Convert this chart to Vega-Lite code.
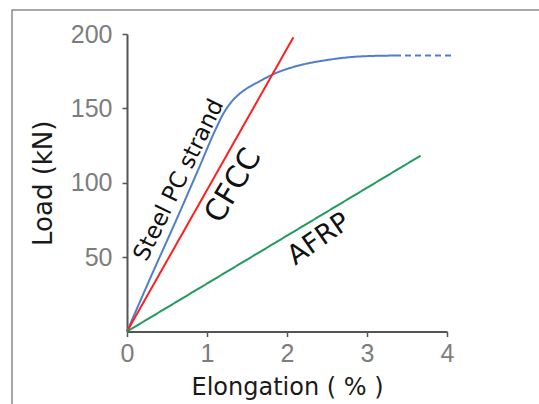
{
  "$schema": "https://vega.github.io/schema/vega-lite/v6.json",
  "width": 540,
  "height": 400,
  "autosize": "none",
  "padding": {"left": 12, "top": 10, "right": 0, "bottom": 0},
  "background": "white",
  "config": {
    "view": {"stroke": "#8a8a8a", "strokeWidth": 1.5},
    "axis": {
      "grid": false,
      "domainColor": "#555555",
      "domainWidth": 2,
      "tickColor": "#555555",
      "tickWidth": 1.5,
      "tickSize": 5,
      "labelColor": "#7d7d7d",
      "labelFont": "Liberation Sans",
      "labelFontSize": 25,
      "labelFlush": false,
      "labelOverlap": false,
      "titleFont": "DejaVu Sans",
      "titleFontWeight": "normal",
      "titleColor": "#1a1a1a"
    }
  },
  "datasets": {
    "curves": [
      {"series": "Steel PC strand", "part": "solid", "x": 0, "y": 0},
      {"series": "Steel PC strand", "part": "solid", "x": 0.3, "y": 37},
      {"series": "Steel PC strand", "part": "solid", "x": 0.6, "y": 73},
      {"series": "Steel PC strand", "part": "solid", "x": 0.9, "y": 110},
      {"series": "Steel PC strand", "part": "solid", "x": 1.1, "y": 135},
      {"series": "Steel PC strand", "part": "solid", "x": 1.2, "y": 146},
      {"series": "Steel PC strand", "part": "solid", "x": 1.3, "y": 154},
      {"series": "Steel PC strand", "part": "solid", "x": 1.4, "y": 159.5},
      {"series": "Steel PC strand", "part": "solid", "x": 1.5, "y": 163.5},
      {"series": "Steel PC strand", "part": "solid", "x": 1.65, "y": 168},
      {"series": "Steel PC strand", "part": "solid", "x": 1.85, "y": 173.5},
      {"series": "Steel PC strand", "part": "solid", "x": 2.0, "y": 176.5},
      {"series": "Steel PC strand", "part": "solid", "x": 2.2, "y": 179.5},
      {"series": "Steel PC strand", "part": "solid", "x": 2.5, "y": 182.5},
      {"series": "Steel PC strand", "part": "solid", "x": 2.8, "y": 184.5},
      {"series": "Steel PC strand", "part": "solid", "x": 3.1, "y": 185.3},
      {"series": "Steel PC strand", "part": "solid", "x": 3.35, "y": 185.5},
      {"series": "Steel PC strand", "part": "dashed", "x": 3.35, "y": 185.5},
      {"series": "Steel PC strand", "part": "dashed", "x": 4.1, "y": 185.5},
      {"series": "CFCC", "part": "solid", "x": 0, "y": 0},
      {"series": "CFCC", "part": "solid", "x": 2.08, "y": 197.8},
      {"series": "AFRP", "part": "solid", "x": 0, "y": 0},
      {"series": "AFRP", "part": "solid", "x": 3.67, "y": 118.2}
    ],
    "labels": [
      {"label": "Steel PC strand", "x": 0.65, "y": 101.8},
      {"label": "CFCC", "x": 1.33, "y": 98},
      {"label": "AFRP", "x": 2.4, "y": 62}
    ]
  },
  "encoding": {
    "x": {
      "field": "x",
      "type": "quantitative",
      "scale": {"domain": [0, 4], "range": [115, 435], "nice": false, "zero": false},
      "axis": {
        "values": [0, 1, 2, 3, 4],
        "offset": -78.5,
        "labelPadding": 5,
        "title": "Elongation ( % )",
        "titleFontSize": 24,
        "titlePadding": 9
      }
    },
    "y": {
      "field": "y",
      "type": "quantitative",
      "scale": {"domain": [0, 200], "range": [321.5, 24], "nice": false, "zero": false},
      "axis": {
        "values": [50, 100, 150, 200],
        "offset": -115,
        "labelPadding": 10,
        "title": "Load (kN)",
        "titleFontSize": 26,
        "titlePadding": 14
      }
    }
  },
  "layer": [
    {
      "data": {"name": "curves"},
      "mark": {"type": "line", "strokeWidth": 2, "clip": false, "interpolate": "monotone"},
      "encoding": {
        "color": {
          "field": "series",
          "type": "nominal",
          "scale": {"domain": ["Steel PC strand", "CFCC", "AFRP"], "range": ["#4f7fcb", "#ff1f1f", "#239a5e"]},
          "legend": null
        },
        "detail": {"field": "part"},
        "strokeDash": {
          "field": "part",
          "type": "nominal",
          "scale": {"domain": ["solid", "dashed"], "range": [[1, 0], [6, 4]]},
          "legend": null
        }
      }
    },
    {
      "data": {"name": "labels"},
      "transform": [{"filter": "datum.label === 'Steel PC strand'"}],
      "mark": {"type": "text", "angle": -64, "fontSize": 23, "font": "DejaVu Sans", "color": "#111111", "align": "center", "baseline": "middle"},
      "encoding": {"text": {"field": "label"}}
    },
    {
      "data": {"name": "labels"},
      "transform": [{"filter": "datum.label === 'CFCC'"}],
      "mark": {"type": "text", "angle": -59, "fontSize": 30, "font": "DejaVu Sans", "color": "#111111", "align": "center", "baseline": "middle"},
      "encoding": {"text": {"field": "label"}}
    },
    {
      "data": {"name": "labels"},
      "transform": [{"filter": "datum.label === 'AFRP'"}],
      "mark": {"type": "text", "angle": -35, "fontSize": 27, "font": "DejaVu Sans", "color": "#111111", "align": "center", "baseline": "middle"},
      "encoding": {"text": {"field": "label"}}
    }
  ]
}
